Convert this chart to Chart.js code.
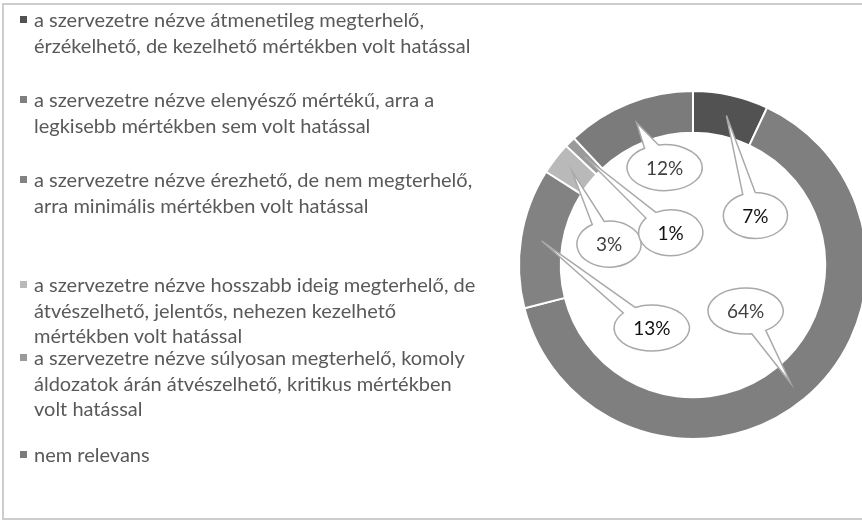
<!DOCTYPE html>
<html>
<head>
<meta charset="utf-8">
<script src="https://cdn.jsdelivr.net/npm/chart.js@4.4.1/dist/chart.umd.min.js"></script>
<style>
  html, body { margin: 0; padding: 0; background: #fff; overflow: hidden; }
  #frame { position: absolute; left: 2px; top: 3px; width: 880px; height: 517px; border: 2px solid #cdcdcd; box-sizing: border-box; }
  #wrap { position: absolute; left: 0; top: 0; width: 880px; height: 523px; }
  #legend { position: absolute; left: 0; top: 0; width: 500px; height: 523px; font-family: Lato, "Open Sans", sans-serif; font-size: 20px; color: #595959; }
  .item { position: absolute; left: 34px; line-height: 25.5px; white-space: nowrap; }
  .box { position: absolute; left: -14px; top: 9px; width: 7px; height: 7px; }
</style>
</head>
<body>
<div id="frame"></div>
<div id="wrap"><canvas id="chart"></canvas></div>
<div id="legend"></div>
<script>
//DATI
var categories = [
  ['a szervezetre nézve átmenetileg megterhelő,', 'érzékelhető, de kezelhető mértékben volt hatással'],
  ['a szervezetre nézve elenyésző mértékű, arra a', 'legkisebb mértékben sem volt hatással'],
  ['a szervezetre nézve érezhető, de nem megterhelő,', 'arra minimális mértékben volt hatással'],
  ['a szervezetre nézve hosszabb ideig megterhelő, de', 'átvészelhető, jelentős, nehezen kezelhető', 'mértékben volt hatással'],
  ['a szervezetre nézve súlyosan megterhelő, komoly', 'áldozatok árán átvészelhető, kritikus mértékben', 'volt hatással'],
  ['nem relevans']
];
var shares = [7, 64, 13, 3, 1, 12];

//STILI
var sliceColors = ['#525252', '#7f7f7f', '#828282', '#b9b9b9', '#9a9a9a', '#7b7b7b'];
var labelColors = ['#111111', '#404040', '#111111', '#404040', '#111111', '#404040'];
var legendCenters = [20, 100, 180, 285, 358, 455];
var bubbleOffsets = [[29, 100], [-45, -72], [110, 87], [37, 73], [86, 76], [28, 45]];

//LEGENDA
var legend = document.getElementById('legend');
for (var i = 0; i < categories.length; i++) {
  var item = document.createElement('div');
  item.className = 'item';
  item.style.top = (legendCenters[i] - 12.75) + 'px';
  item.innerHTML = '<span class="box" style="background:' + sliceColors[i] + '"></span>' + categories[i].join('<br>');
  legend.appendChild(item);
}

//CALLOUT
var calloutPlugin = {
  id: 'callouts',
  afterDatasetsDraw: function (chart) {
    var ctx = chart.ctx;
    var meta = chart.getDatasetMeta(0);
    ctx.save();
    ctx.font = '19px Lato, "Open Sans", sans-serif';
    ctx.textAlign = 'center';
    ctx.textBaseline = 'middle';
    meta.data.forEach(function (arc, i) {
      var tip = arc.tooltipPosition();
      var cx = tip.x + bubbleOffsets[i][0];
      var cy = tip.y + bubbleOffsets[i][1];
      var text = shares[i] + '%';
      var rx = ctx.measureText(text).width / 2 + 19;
      var ry = 23;
      var a = Math.atan2((tip.y - cy) / ry, (tip.x - cx) / rx);
      var d = 0.2;
      ctx.beginPath();
      ctx.ellipse(cx, cy, rx, ry, 0, a + d, a - d + Math.PI * 2);
      ctx.lineTo(tip.x, tip.y);
      ctx.closePath();
      ctx.fillStyle = '#ffffff';
      ctx.fill();
      ctx.lineWidth = 1.5;
      ctx.strokeStyle = '#a9a9a9';
      ctx.stroke();
      ctx.fillStyle = labelColors[i];
      ctx.fillText(text, cx, cy + 1);
    });
    ctx.restore();
  }
};

new Chart(document.getElementById('chart'), {
  type: 'doughnut',
  data: {
    labels: categories.map(function (c) { return c.join(' '); }),
    datasets: [{
      data: shares,
      backgroundColor: sliceColors,
      borderColor: '#ffffff',
      borderWidth: 2
    }]
  },
  options: {
    responsive: true,
    maintainAspectRatio: false,
    animation: false,
    cutout: '76%',
    layout: { padding: { left: 518, right: 12, top: 90, bottom: 83 } },
    plugins: {
      legend: { display: false },
      tooltip: { enabled: false }
    }
  },
  plugins: [calloutPlugin]
});
</script>
</body>
</html>
